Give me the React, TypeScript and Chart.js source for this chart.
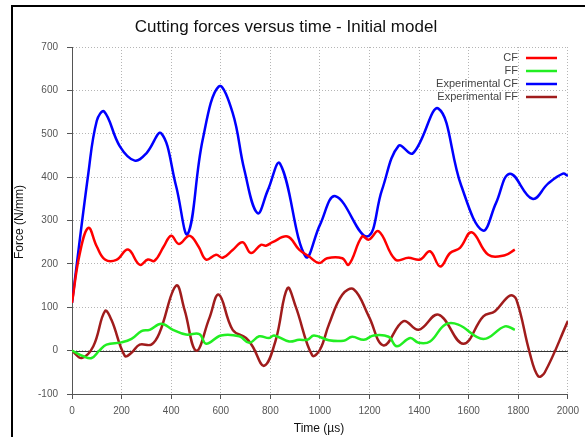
import React, { useEffect, useRef } from "react";
import { Chart, registerables } from "chart.js";

Chart.register(...registerables);

const TITLE = "Cutting forces versus time - Initial model";
const X_TITLE = "Time (µs)";
const Y_TITLE = "Force (N/mm)";
const SERIES_NAMES = ["CF", "FF", "Experimental CF", "Experimental FF"];
const SERIES_COLORS = ["#ff0000", "#22ee22", "#0000ff", "#a01c1c"];

const cfTime = [0, 30, 66, 100, 133, 179, 226, 273, 306, 333, 370, 400, 431, 474, 510, 541, 581, 608, 648, 688, 722, 762, 782, 809, 869, 916, 956, 996, 1029, 1090, 1116, 1170, 1197, 1237, 1304, 1357, 1404, 1444, 1485, 1525, 1565, 1612, 1679, 1746, 1786];
const cfValues = [110, 220, 283, 240, 210, 209, 233, 198, 210, 207, 240, 265, 246, 265, 240, 210, 221, 214, 232, 250, 225, 244, 242, 250, 263, 233, 217, 202, 213, 213, 198, 263, 256, 275, 210, 214, 210, 229, 194, 225, 237, 273, 221, 220, 233];

const ffTime = [0, 46, 79, 110, 139, 199, 240, 280, 313, 360, 407, 460, 514, 541, 601, 675, 715, 755, 795, 815, 876, 916, 949, 976, 1036, 1096, 1130, 1177, 1217, 1277, 1310, 1364, 1398, 1444, 1505, 1558, 1659, 1746, 1786];
const ffValues = [0, -13, -17, 0, 14, 19, 27, 45, 48, 62, 48, 37, 38, 16, 35, 33, 18, 33, 29, 35, 21, 25, 25, 35, 24, 23, 32, 25, 35, 32, 10, 29, 18, 21, 60, 60, 27, 56, 48];

const expCfTime = [0, 66, 100, 130, 193, 253, 300, 360, 420, 467, 527, 592, 648, 695, 748, 790, 839, 942, 1000, 1063, 1190, 1250, 1317, 1375, 1478, 1570, 1656, 1710, 1766, 1857, 1920, 1980, 2000];
const expCfValues = [110, 409, 530, 551, 471, 438, 455, 501, 379, 269, 486, 609, 548, 417, 317, 370, 431, 217, 290, 356, 263, 370, 472, 455, 558, 380, 277, 340, 408, 350, 385, 408, 403];

const expFfTime = [0, 39, 86, 133, 159, 213, 240, 273, 320, 353, 420, 454, 501, 554, 592, 648, 702, 728, 775, 822, 869, 902, 969, 1000, 1036, 1090, 1137, 1197, 1257, 1337, 1398, 1478, 1578, 1659, 1706, 1766, 1792, 1846, 1880, 1906, 2000];
const expFfValues = [0, -17, 10, 91, 71, -12, -5, 14, 14, 41, 150, 94, 0, 75, 129, 48, 29, 10, -35, 25, 144, 102, -11, 2, 60, 129, 141, 79, 12, 68, 48, 83, 16, 79, 91, 127, 118, -5, -59, -51, 68];

const X_MIN = 0, X_MAX = 2000, X_STEP = 200;
const Y_MIN = -100, Y_MAX = 700, Y_STEP = 100;

const FONT = "'Liberation Sans', Arial, sans-serif";

function toPoints(t: number[], v: number[]) {
  return t.map((x, i) => ({ x, y: v[i] }));
}

const decorPlugin = {
  id: "decor",
  beforeDraw(chart: any) {
    const ctx = chart.ctx;
    ctx.save();
    ctx.fillStyle = "#ffffff";
    ctx.fillRect(0, 0, chart.width, chart.height);
    ctx.strokeStyle = "#000000";
    ctx.lineWidth = 2;
    ctx.strokeRect(12, 6, chart.width + 20, chart.height + 20);
    ctx.restore();
  },
  beforeDatasetsDraw(chart: any) {
    const ctx = chart.ctx;
    const { left, right } = chart.chartArea;
    const y0 = Math.round(chart.scales.y.getPixelForValue(0)) + 0.5;
    ctx.save();
    ctx.strokeStyle = "#333333";
    ctx.lineWidth = 1;
    ctx.beginPath();
    ctx.moveTo(left, y0);
    ctx.lineTo(right, y0);
    ctx.stroke();
    ctx.restore();
  },
  afterDraw(chart: any) {
    const ctx = chart.ctx;
    ctx.save();
    ctx.fillStyle = "#111111";
    ctx.textAlign = "center";
    ctx.textBaseline = "alphabetic";
    ctx.font = `17px ${FONT}`;
    ctx.fillText(TITLE, 286, 32);

    ctx.font = `12px ${FONT}`;
    ctx.textBaseline = "middle";
    ctx.fillText(X_TITLE, 319, 429);

    ctx.save();
    ctx.translate(20, 222);
    ctx.rotate(-Math.PI / 2);
    ctx.fillText(Y_TITLE, 0, 0);
    ctx.restore();

    ctx.font = `11px ${FONT}`;
    ctx.textAlign = "right";
    const rows = [58, 71, 84, 97];
    SERIES_NAMES.forEach((name, i) => {
      ctx.fillStyle = "#444444";
      ctx.fillText(name, 518, rows[i]);
      ctx.strokeStyle = SERIES_COLORS[i];
      ctx.lineWidth = 2.5;
      ctx.beginPath();
      ctx.moveTo(526, rows[i]);
      ctx.lineTo(557, rows[i]);
      ctx.stroke();
    });
    ctx.restore();
  },
};

export default function App() {
  const ref = useRef<HTMLCanvasElement | null>(null);

  useEffect(() => {
    document.body.style.margin = "0";
    if (!ref.current) return;
    Chart.defaults.font.family = FONT;
    const series = [
      toPoints(cfTime, cfValues),
      toPoints(ffTime, ffValues),
      toPoints(expCfTime, expCfValues),
      toPoints(expFfTime, expFfValues),
    ];
    const chart = new Chart(ref.current, {
      type: "line",
      data: {
        datasets: series.map((data, i) => ({
          label: SERIES_NAMES[i],
          data,
          borderColor: SERIES_COLORS[i],
          backgroundColor: SERIES_COLORS[i],
          borderWidth: 2.5,
          pointRadius: 0,
          tension: 0.4,
          fill: false,
        })),
      },
      options: {
        responsive: false,
        animation: false,
        layout: { padding: { top: 47, right: 15, left: 0, bottom: 0 } },
        plugins: {
          legend: { display: false },
          title: { display: false },
          tooltip: { enabled: false },
        },
        scales: {
          x: {
            type: "linear",
            min: X_MIN,
            max: X_MAX,
            afterFit: (s: any) => {
              s.height = 43;
            },
            ticks: { stepSize: X_STEP, color: "#555", font: { size: 10 }, padding: 6, maxRotation: 0, callback: (v: any) => String(v) },
            grid: { color: "#b5b5b5", lineWidth: 1, drawTicks: true, tickLength: 5, tickColor: "#555", tickBorderDash: [] },
            border: { display: true, color: "#555", width: 1, dash: [1, 2] },
          },
          y: {
            type: "linear",
            min: Y_MIN,
            max: Y_MAX,
            afterFit: (s: any) => {
              s.width = 72;
            },
            ticks: { stepSize: Y_STEP, color: "#555", font: { size: 10 }, padding: 9, callback: (v: any) => String(v) },
            grid: { color: "#b5b5b5", lineWidth: 1, drawTicks: true, tickLength: 5, tickColor: "#555", tickBorderDash: [] },
            border: { display: true, color: "#555", width: 1, dash: [1, 2] },
          },
        },
      },
      plugins: [decorPlugin],
    });
    return () => chart.destroy();
  }, []);

  return (
    <div style={{ width: 585, height: 437, position: "relative" }}>
      <canvas ref={ref} width={585} height={437} style={{ width: 585, height: 437, display: "block" }} />
    </div>
  );
}
